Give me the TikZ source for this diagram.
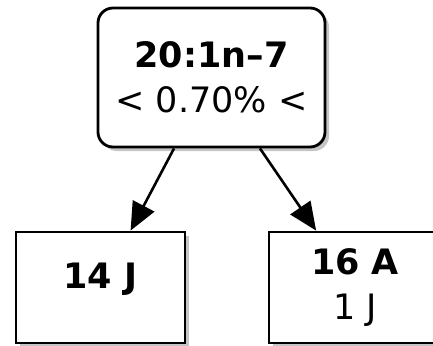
\documentclass[tikz,border=0pt]{standalone}
\usepackage{fontspec}
\setmainfont{DejaVu Sans}
\usetikzlibrary{positioning, arrows.meta, shadows}

\begin{document}
\begin{tikzpicture}[x=1pt, y=-1pt,
    rootnode/.style={rectangle, rounded corners=15pt, draw=black, line width=2.8pt, fill=white, minimum width=227pt, minimum height=139pt, align=center, font=\fontsize{35}{45}\selectfont, drop shadow={shadow xshift=4pt, shadow yshift=-4pt, fill=black!45}},
    leafnode/.style={rectangle, draw=black, line width=2.8pt, fill=white, minimum width=169pt, minimum height=111pt, align=center, font=\fontsize{35}{45}\selectfont, drop shadow={shadow xshift=4pt, shadow yshift=-4pt, fill=black!45}},
    edge/.style={line width=2.6pt, -{Triangle[length=28pt, width=24pt]}},
]
\useasboundingbox (0,0) rectangle (433,345);
\node[rootnode](root) at (211.5,77.5){\textbf{20:1n–7}\\< 0.70\% <};
\node[leafnode](leafj) at (100.5,287.5){\raisebox{8pt}[\height][\depth]{\textbf{14 J}}};
\node[leafnode, minimum width=172pt](leafa) at (355,287.5){\textbf{16 A}\\1 J};
\draw[edge] (root) -- (leafj);
\draw[edge] (root) -- (leafa);
\end{tikzpicture}
\end{document}
